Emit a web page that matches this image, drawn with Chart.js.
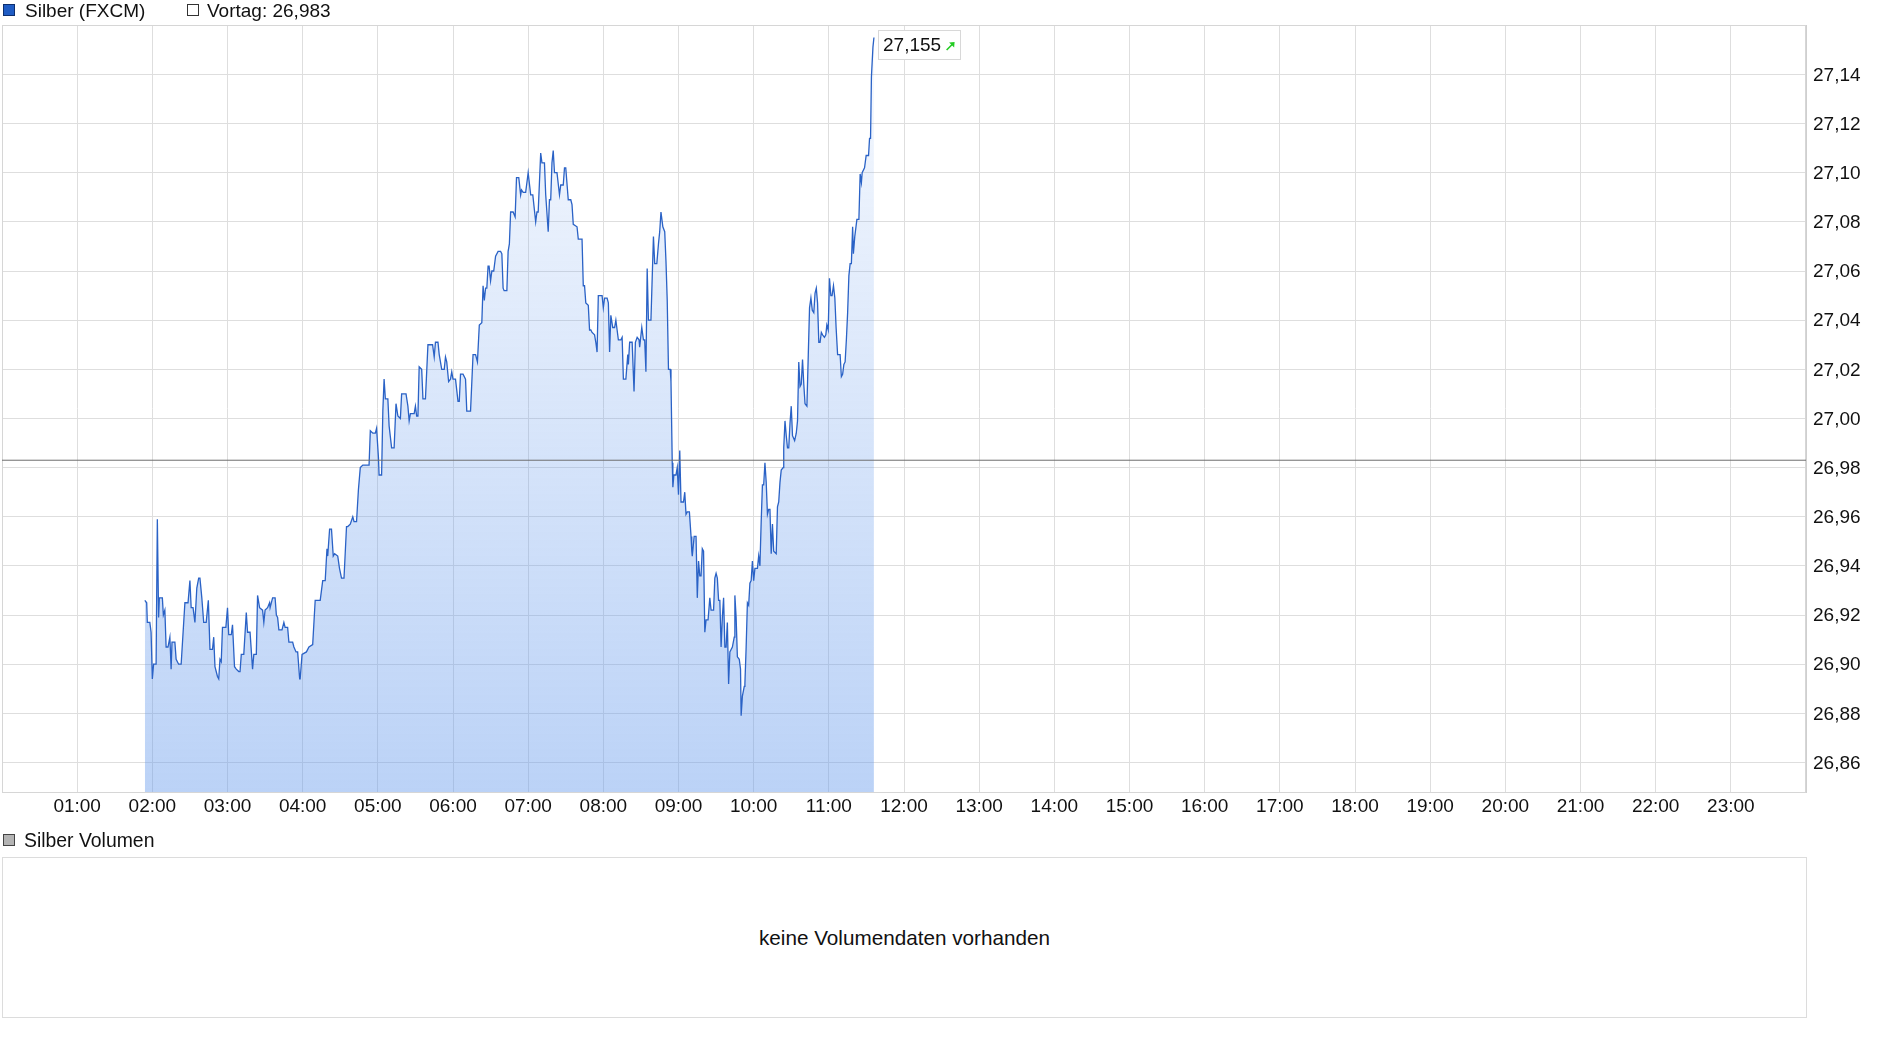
<!DOCTYPE html>
<html><head><meta charset="utf-8">
<script src="https://cdn.jsdelivr.net/npm/chart.js@4.4.1/dist/chart.umd.min.js"></script>
<style>
html,body{margin:0;padding:0;background:#fff;width:1880px;height:1037px;overflow:hidden;font-family:"Liberation Sans",Arial,sans-serif;color:#111;}
#c{position:absolute;left:0;top:0;}
.leg{position:absolute;font-size:19px;line-height:22px;white-space:nowrap;color:#111;}
.sq{position:absolute;width:10px;height:10px;}
#vol{position:absolute;left:2px;top:857px;width:1805px;height:161px;border:1px solid #dcdcdc;box-sizing:border-box;}
#volmsg{position:absolute;left:0;right:0;top:0;bottom:0;display:flex;align-items:center;justify-content:center;font-size:20.7px;color:#111;}
</style></head>
<body>
<canvas id="c" width="1880" height="830"></canvas>
<div class="sq" style="left:3px;top:4px;background:#1f5cc4;border:1px solid #0d2f6e;"></div>
<div class="leg" style="left:25px;top:0px;">Silber (FXCM)</div>
<div class="sq" style="left:187px;top:4px;background:#fff;border:1px solid #333;"></div>
<div class="leg" style="left:207px;top:0px;">Vortag: 26,983</div>
<div class="sq" style="left:3px;top:834px;background:#b4b4b4;border:1px solid #444;"></div>
<div class="leg" style="left:24px;top:829px;font-size:19.4px;">Silber Volumen</div>
<div id="vol"><div id="volmsg">keine Volumendaten vorhanden</div></div>
<script>
// ---- data ----
const seriesName = 'Silber (FXCM)';
const previousClose = 26.983;
const lastLabel = '27,155';
// minutes since midnight
const priceMinutes = [
114,115.5,116,118,119,120,121,123,124,125,125.6,128,128.8,130,131,132.5,134,135,135.7,138,139,141,143,146,148.5,150,151,152.5,154,155.5,157,158,159.5,161,163,164.7,166,168,169,170,172,173,174,175,176,178.7,180,181,183,184,185.6,187,189,190,191,193,195,196,198,200,201,203,204,205.6,208,209,210,212,213.6,214,216,218,219,220,221,223.5,225,226,228,229,232,233,234.7,236,237.6,238,239.5,243,245,248,250,254,256,258,259.4,260,261.5,263,264.4,265.5,268,269.4,271,273,275,276,278,280,281,283,284.5,286,288,290,293,294,296,298,299,300.5,301,303,304,305,306,308,309,311,313,314.5,316,318,319,322.5,324,325,326,329,330,331,332,333,335,336,338,339,340,343.7,345,346,348,349,351,353,354,355,356.5,358,359,360,362,364,365,366,368,370,371,374,376,378,379.5,381,383,384,385,386,387,388,388.8,390,391,392.5,394,396,398,399,400,400.8,403,404,405,406,408,409.6,410.7,412.5,414,414.7,416,418,420,422,423.7,426,427,428,430,431,433,434,436,437,438,439,440,441,443,445,446,448,449,450,452,454,455,456,459,460,463,464,465,466,468,469,470,471,473,474,475,476,479,480,481,483,484,485,486,487.5,489,490,492,494,495,496,498,499.5,500,501,503,504.5,505.6,507,508.5,509,510.7,512,513,514,515,516,518,520,521,522.7,524,525,526,527.5,529,530,531,532,533.4,534,535,535.5,536.3,538,539,540,541,542,544,545,546,547,548.7,550,550.6,551,552.5,554,555,556,557,558,559,560,561,562,563.6,565,566,568,569,570,571,572,573,574,575,576,577,578,579,580,581,582,583,584.5,585,586,587,588.5,589.5,590,591,592.5,593,594,595,596,597,598,599,600,601,603,604,605,606,607,608,609,610,611,612,613,614,615,616,618,619,620,621,622,623.5,624,625,626,627,628,629,630,631,632.7,634,635,636,637,638,639,640,641,642.5,643.6,644.6,645.7,646.8,648,649,650,651,652,653,654,655,656.5,657.6,658.4,659.5,660.5,661.6,662.6,663.7,664.8,665.8,667,669,670,671,672,673,674,675,676,677,678,679,679.6,680.7,682.4,684,685,686,686.6,688.5,689.8,691.7,692.5,693.3,694,695.2,696
];
const priceValues = [
26.926,26.925,26.917,26.917,26.913,26.894,26.900,26.900,26.959,26.919,26.927,26.927,26.920,26.922,26.907,26.907,26.911,26.898,26.909,26.909,26.902,26.900,26.900,26.925,26.925,26.934,26.923,26.923,26.917,26.931,26.935,26.935,26.927,26.917,26.917,26.926,26.906,26.906,26.911,26.899,26.895,26.894,26.902,26.901,26.915,26.915,26.923,26.912,26.912,26.916,26.899,26.898,26.897,26.897,26.904,26.904,26.921,26.913,26.913,26.898,26.904,26.904,26.928,26.923,26.922,26.917,26.922,26.923,26.925,26.923,26.927,26.927,26.920,26.919,26.914,26.914,26.917,26.915,26.915,26.909,26.909,26.907,26.905,26.905,26.894,26.894,26.904,26.905,26.907,26.908,26.926,26.926,26.934,26.934,26.947,26.944,26.955,26.955,26.944,26.945,26.944,26.939,26.935,26.935,26.956,26.956,26.957,26.960,26.958,26.958,26.971,26.980,26.981,26.981,26.981,26.995,26.994,26.994,26.996,26.984,26.977,26.977,27.003,27.016,27.008,27.008,26.997,26.988,26.988,27.006,27.001,27.000,27.010,27.010,27.005,26.999,27.002,27.002,27.005,27.001,27.001,27.021,27.020,27.008,27.008,27.019,27.030,27.030,27.025,27.031,27.031,27.026,27.020,27.020,27.025,27.023,27.015,27.016,27.019,27.016,27.016,27.007,27.007,27.018,27.018,27.016,27.003,27.003,27.026,27.026,27.023,27.038,27.039,27.054,27.048,27.053,27.053,27.062,27.062,27.056,27.060,27.060,27.066,27.068,27.068,27.067,27.053,27.052,27.052,27.068,27.071,27.084,27.084,27.082,27.098,27.098,27.091,27.093,27.092,27.092,27.100,27.091,27.091,27.080,27.084,27.084,27.108,27.104,27.104,27.091,27.076,27.089,27.089,27.104,27.109,27.100,27.100,27.091,27.095,27.095,27.102,27.102,27.089,27.089,27.087,27.079,27.078,27.073,27.073,27.054,27.054,27.047,27.046,27.036,27.036,27.035,27.034,27.031,27.027,27.050,27.050,27.045,27.049,27.049,27.047,27.027,27.042,27.037,27.037,27.040,27.032,27.032,27.033,27.016,27.016,27.026,27.022,27.031,27.031,27.011,27.031,27.033,27.032,27.029,27.037,27.032,27.032,27.019,27.061,27.040,27.040,27.074,27.063,27.063,27.071,27.076,27.084,27.078,27.076,27.064,27.048,27.020,27.020,27.015,26.982,26.972,26.977,26.977,26.980,26.969,26.987,26.966,26.966,26.970,26.961,26.962,26.962,26.952,26.946,26.944,26.952,26.952,26.927,26.942,26.936,26.936,26.947,26.946,26.913,26.918,26.918,26.927,26.922,26.922,26.935,26.937,26.935,26.926,26.926,26.907,26.919,26.927,26.907,26.907,26.917,26.892,26.905,26.906,26.907,26.911,26.928,26.919,26.903,26.902,26.898,26.879,26.887,26.891,26.892,26.907,26.925,26.924,26.933,26.934,26.942,26.934,26.939,26.939,26.944,26.940,26.958,26.973,26.973,26.982,26.974,26.961,26.963,26.963,26.945,26.957,26.946,26.945,26.964,26.966,26.974,26.979,26.980,26.988,26.999,26.993,26.988,26.988,26.998,27.005,26.993,26.991,26.994,26.999,27.023,27.013,27.014,27.024,27.014,27.006,27.005,27.026,27.045,27.049,27.044,27.043,27.051,27.053,27.047,27.031,27.031,27.035,27.034,27.033,27.034,27.038,27.036,27.057,27.050,27.050,27.054,27.049,27.037,27.026,27.026,27.017,27.018,27.022,27.023,27.032,27.043,27.058,27.063,27.063,27.078,27.067,27.074,27.081,27.081,27.0995,27.096,27.100,27.102,27.107,27.107,27.114,27.114,27.139,27.151,27.155
];
const xTickMinutes = [60,120,180,240,300,360,420,480,540,600,660,720,780,840,900,960,1020,1080,1140,1200,1260,1320,1380];
const xTickLabels = ['01:00','02:00','03:00','04:00','05:00','06:00','07:00','08:00','09:00','10:00','11:00','12:00','13:00','14:00','15:00','16:00','17:00','18:00','19:00','20:00','21:00','22:00','23:00'];
const yTickValues = [26.86,26.88,26.90,26.92,26.94,26.96,26.98,27.00,27.02,27.04,27.06,27.08,27.10,27.12,27.14];

// ---- chart ----
const FONT = '"Liberation Sans", Arial, sans-serif';
const pricePoints = priceMinutes.map((m, i) => ({x: m, y: priceValues[i]}));

const framePlugin = {
  id: 'frame',
  beforeDatasetsDraw(chart) {
    const {ctx, chartArea: a} = chart;
    ctx.save();
    ctx.strokeStyle = '#d6d6d6';
    ctx.lineWidth = 1;
    ctx.strokeRect(a.left + 0.5, a.top + 0.5, a.right - a.left - 1, a.bottom - a.top);
    ctx.restore();
  },
  afterDatasetsDraw(chart) {
    const {ctx} = chart;
    const meta = chart.getDatasetMeta(1);
    const last = meta.data[meta.data.length - 1];
    const px = last.x, py = last.y;
    ctx.save();
    ctx.font = '19px ' + FONT;
    const w = ctx.measureText(lastLabel).width;
    const bx = Math.round(px + 4) + 0.5, by = Math.round(py - 8) + 0.5;
    const bw = Math.round(w + 24), bh = 29;
    ctx.fillStyle = '#ffffff';
    ctx.fillRect(bx, by, bw, bh);
    ctx.strokeStyle = '#d8d8d8';
    ctx.lineWidth = 1;
    ctx.strokeRect(bx, by, bw, bh);
    ctx.fillStyle = '#111';
    ctx.textBaseline = 'middle';
    ctx.textAlign = 'left';
    ctx.fillText(lastLabel, bx + 4.5, by + bh / 2 + 1);
    // green arrow
    const ax = bx + w + 10, ay = by + bh / 2 + 5;
    ctx.strokeStyle = '#22cc22';
    ctx.fillStyle = '#22cc22';
    ctx.lineWidth = 1.6;
    ctx.beginPath();
    ctx.moveTo(ax, ay);
    ctx.lineTo(ax + 6, ay - 6);
    ctx.stroke();
    ctx.beginPath();
    ctx.moveTo(ax + 8, ay - 8);
    ctx.lineTo(ax + 2.5, ay - 7.5);
    ctx.lineTo(ax + 7.5, ay - 2.5);
    ctx.closePath();
    ctx.fill();
    ctx.restore();
  }
};

new Chart(document.getElementById('c'), {
  type: 'line',
  data: {
    datasets: [
      {
        label: 'Vortag',
        data: [{x: 0, y: previousClose}, {x: 1440, y: previousClose}],
        borderColor: '#6e6e6e',
        borderWidth: 1,
        pointRadius: 0,
        fill: false
      },
      {
        label: seriesName,
        data: pricePoints,
        borderColor: '#2a62c6',
        borderWidth: 1.3,
        pointRadius: 0,
        tension: 0,
        fill: 'start',
        backgroundColor: (ctx) => {
          const a = ctx.chart.chartArea;
          if (!a) return 'rgba(100,153,236,0.3)';
          const g = ctx.chart.ctx.createLinearGradient(0, a.top, 0, a.bottom);
          g.addColorStop(0, 'rgba(100,153,236,0.05)');
          g.addColorStop(1, 'rgba(100,153,236,0.44)');
          return g;
        }
      }
    ]
  },
  options: {
    responsive: false,
    animation: false,
    devicePixelRatio: 1,
    parsing: false,
    layout: {padding: {left: 2, top: 25, right: 0, bottom: 0}},
    plugins: {legend: {display: false}, tooltip: {enabled: false}},
    scales: {
      x: {
        type: 'linear',
        min: 0,
        max: 1440,
        afterBuildTicks: (s) => { s.ticks = xTickMinutes.map(v => ({value: v})); },
        afterFit: (s) => { s.height = 38; },
        ticks: {
          callback: (v, i) => xTickLabels[i],
          font: {family: FONT, size: 19},
          color: '#111',
          padding: 3,
          maxRotation: 0,
          autoSkip: false
        },
        grid: {color: '#dedede', lineWidth: 1, drawTicks: false},
        border: {color: '#cfcfcf'}
      },
      y: {
        type: 'linear',
        position: 'right',
        min: 26.848,
        max: 27.1601,
        afterBuildTicks: (s) => { s.ticks = yTickValues.map(v => ({value: v})); },
        afterFit: (s) => { s.width = 74; },
        ticks: {
          callback: (v) => v.toFixed(2).replace('.', ','),
          font: {family: FONT, size: 19},
          color: '#111',
          padding: 7,
          labelOffset: 1
        },
        grid: {color: '#dedede', lineWidth: 1, drawTicks: false},
        border: {color: '#cfcfcf'}
      }
    }
  },
  plugins: [framePlugin]
});
</script>
</body></html>
